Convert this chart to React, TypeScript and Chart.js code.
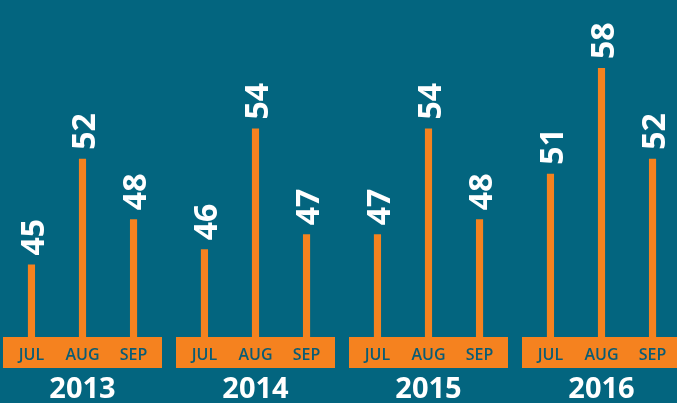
import React, { useEffect, useRef } from "react";
import { Chart, registerables } from "chart.js";

Chart.register(...registerables);

const years = ["2013", "2014", "2015", "2016"];
const months = ["JUL", "AUG", "SEP"];
const julValues = [45, 46, 47, 51];
const augValues = [52, 54, 54, 58];
const sepValues = [48, 47, 48, 52];

const BG = "#03657f";
const ORANGE = "#f5821f";
const MONTH_TEXT = "#0a5c75";

const decorPlugin = {
  id: "decor",
  beforeDatasetsDraw(chart: any) {
    const ctx = chart.ctx;
    const xScale = chart.scales.x;
    const area = chart.chartArea;
    ctx.save();
    ctx.fillStyle = ORANGE;
    years.forEach((_, i) => {
      const cx = xScale.getPixelForValue(i);
      ctx.fillRect(cx - 79.5, area.bottom, 159, 31);
    });
    ctx.restore();
  },
  afterDatasetsDraw(chart: any) {
    const ctx = chart.ctx;
    const area = chart.chartArea;
    ctx.save();
    chart.data.datasets.forEach((ds: any, di: number) => {
      const meta = chart.getDatasetMeta(di);
      meta.data.forEach((bar: any, i: number) => {
        ctx.fillStyle = MONTH_TEXT;
        ctx.font = "600 16px 'Open Sans'";
        ctx.textAlign = "center";
        ctx.textBaseline = "middle";
        ctx.fillText(months[di], bar.x, area.bottom + 18);
        ctx.save();
        ctx.translate(bar.x + 12.5, bar.y - 9);
        ctx.rotate(-Math.PI / 2);
        ctx.fillStyle = "#ffffff";
        ctx.font = "bold 32px 'Open Sans'";
        ctx.textAlign = "left";
        ctx.textBaseline = "alphabetic";
        ctx.fillText(String(ds.data[i]), 0, 0);
        ctx.restore();
      });
    });
    ctx.restore();
  },
};

export default function App() {
  const ref = useRef<HTMLCanvasElement | null>(null);
  useEffect(() => {
    if (!ref.current) return;
    const chart = new Chart(ref.current, {
      type: "bar",
      data: {
        labels: years,
        datasets: [
          { label: months[0], data: julValues, backgroundColor: ORANGE },
          { label: months[1], data: augValues, backgroundColor: ORANGE },
          { label: months[2], data: sepValues, backgroundColor: ORANGE },
        ],
      },
      options: {
        animation: false,
        responsive: false,
        devicePixelRatio: 1,
        layout: { padding: 0 },
        datasets: {
          bar: {
            categoryPercentage: 0.885,
            barPercentage: 0.14,
          },
        },
        plugins: {
          legend: { display: false },
          tooltip: { enabled: false },
        },
        scales: {
          x: {
            grid: { display: false, drawTicks: false },
            border: { display: false },
            ticks: {
              color: "#ffffff",
              font: { family: "'Open Sans'", weight: "bold", size: 29 },
              padding: 35,
              maxRotation: 0,
            },
            afterFit: (scale: any) => {
              scale.height = 66;
            },
          },
          y: {
            display: false,
            min: 40.2,
            max: 62.5,
          },
        },
      },
      plugins: [decorPlugin],
    });
    return () => chart.destroy();
  }, []);
  return (
    <div
      style={{
        position: "fixed",
        left: 0,
        top: 0,
        width: 677,
        height: 403,
        background: BG,
        overflow: "hidden",
      }}
    >
      <canvas
        ref={ref}
        width={692}
        height={403}
        style={{ position: "absolute", left: -4, top: 0, width: 692, height: 403 }}
      />
    </div>
  );
}
